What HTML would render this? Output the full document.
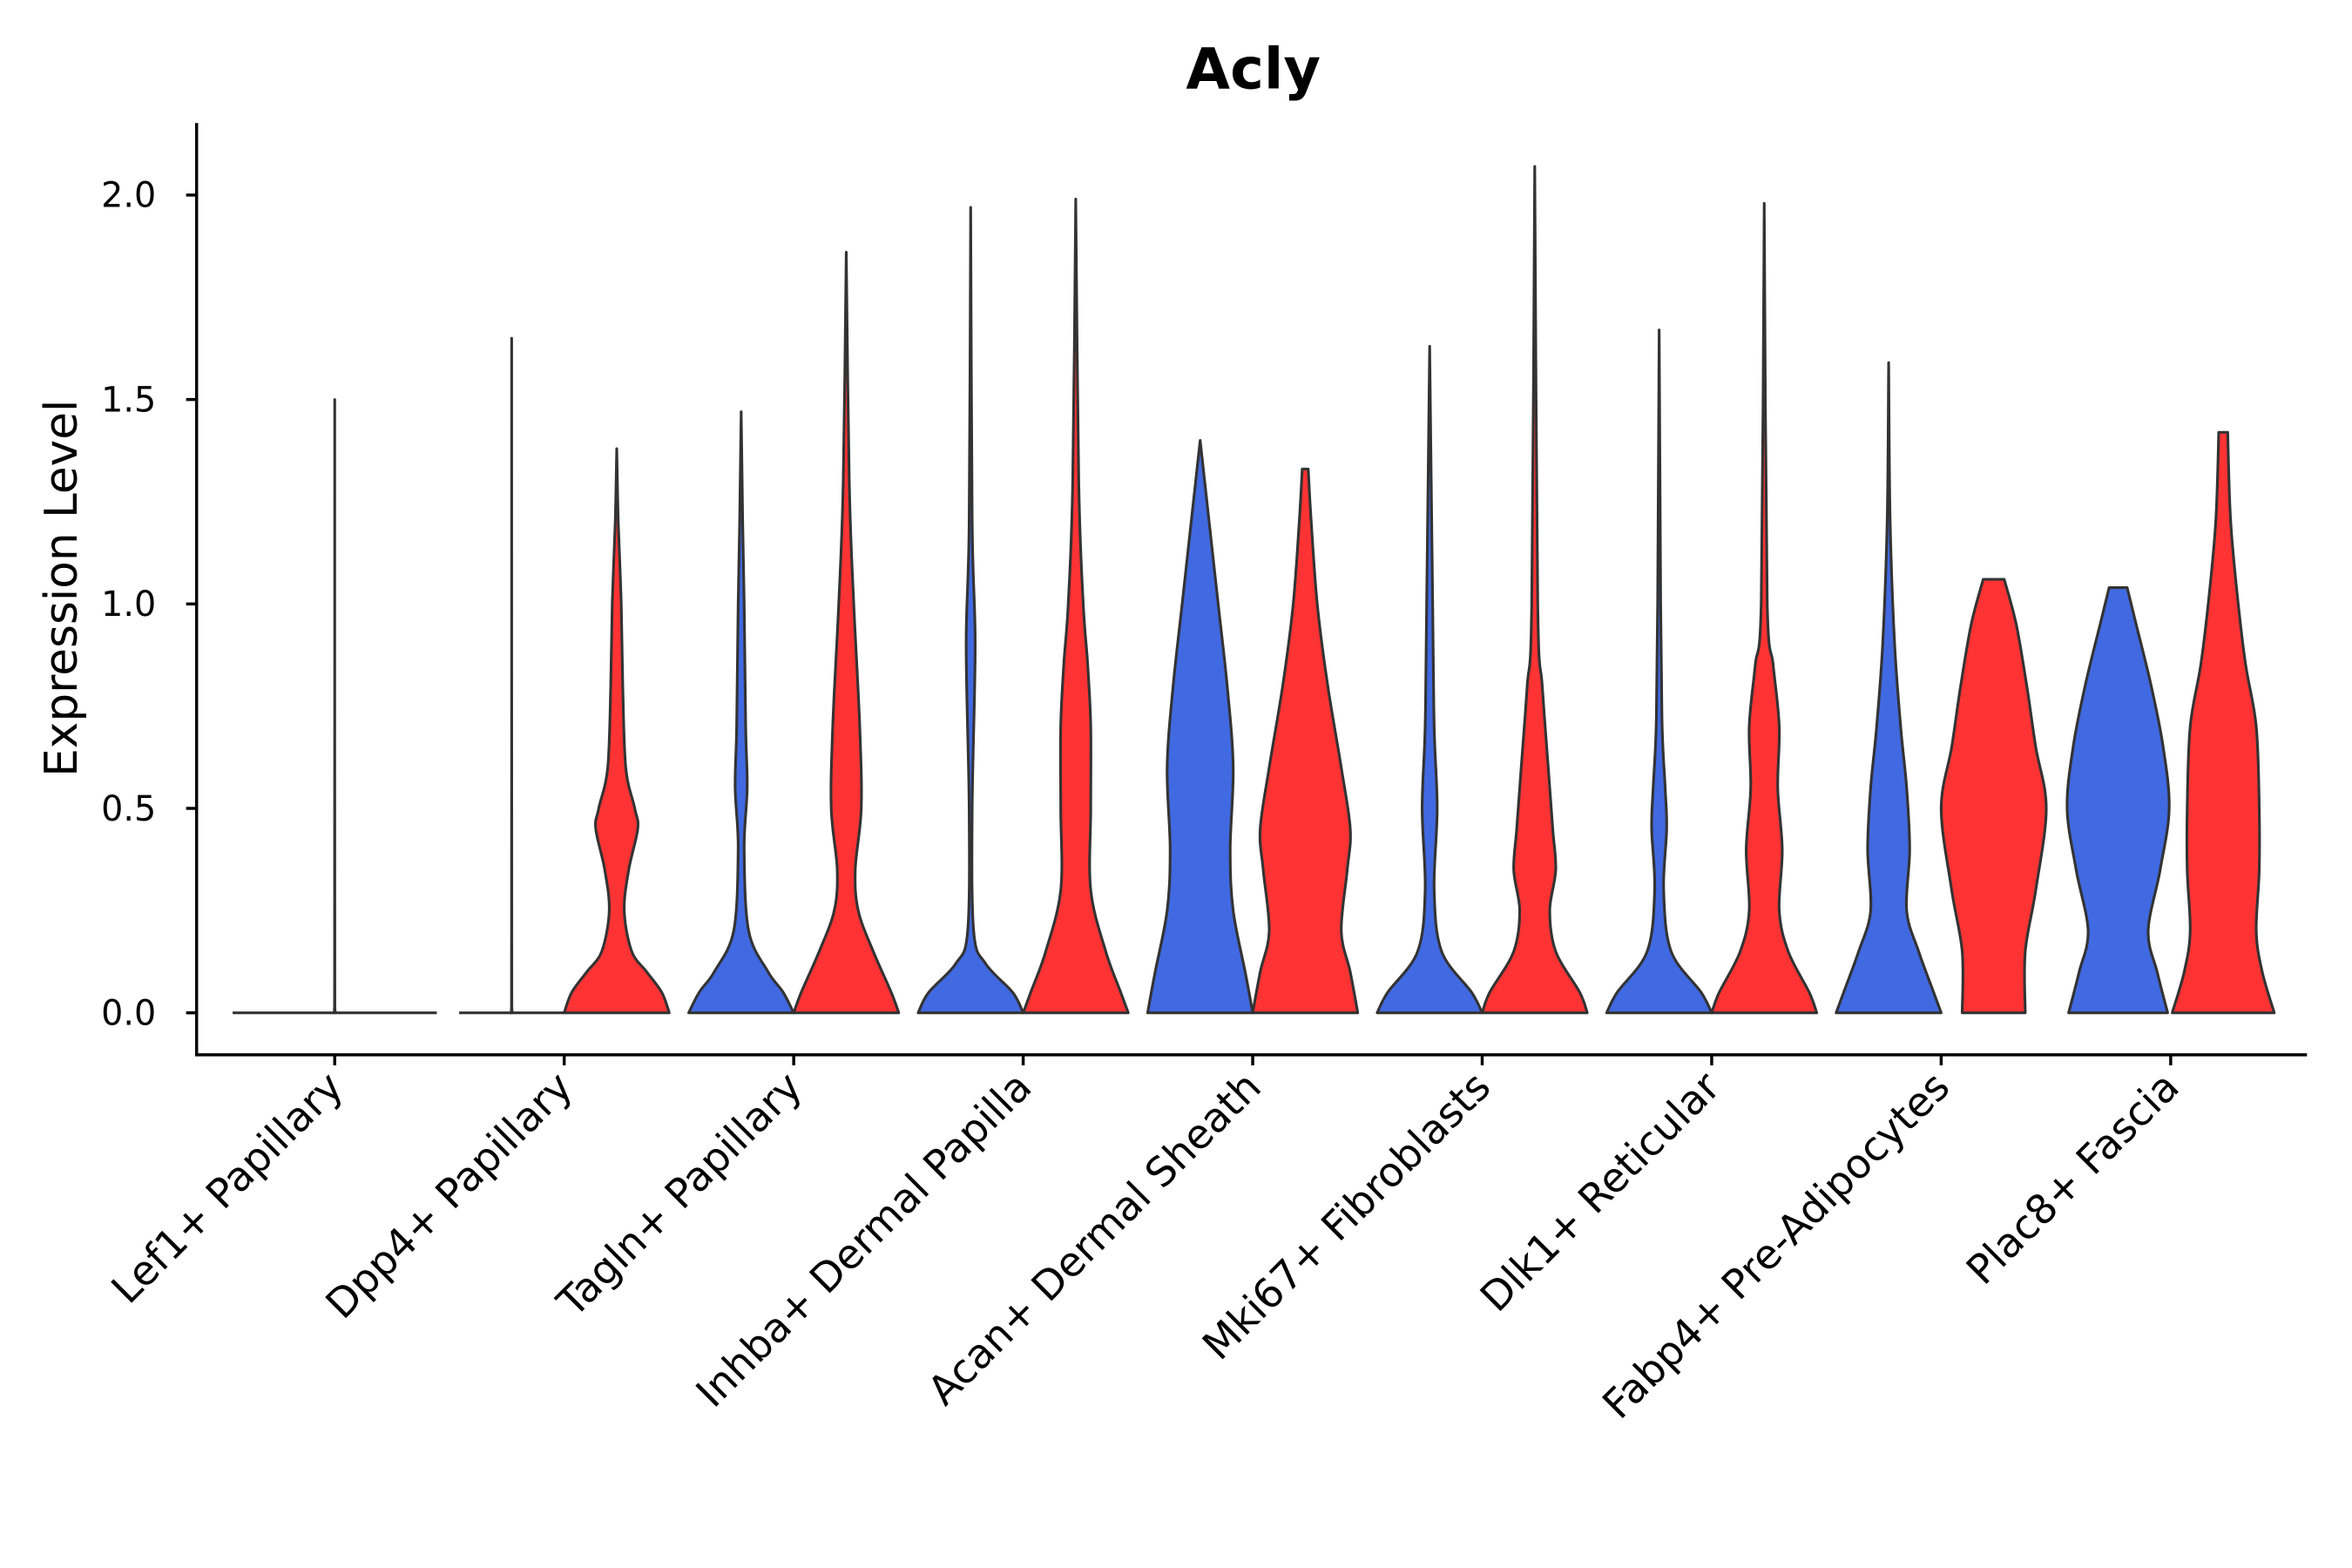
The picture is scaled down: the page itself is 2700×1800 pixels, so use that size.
<!DOCTYPE html>
<html><head><meta charset="utf-8"><style>
html,body{margin:0;padding:0;background:#fff;}
svg{display:block;}
text{font-family:"DejaVu Sans","Liberation Sans",sans-serif;fill:#000;}
</style></head><body>
<svg id="chart" width="2700" height="1800" viewBox="0 0 1567 1045" preserveAspectRatio="none" xmlns="http://www.w3.org/2000/svg">
<text x="835" y="59" text-anchor="middle" font-size="38" font-weight="bold">Acly</text>
<text transform="translate(51,392) rotate(-90)" text-anchor="middle" font-size="30">Expression Level</text>
<g id="plot"></g>
</svg>
<script>
const categories = ["Lef1+ Papillary","Dpp4+ Papillary","Tagln+ Papillary","Inhba+ Dermal Papilla","Acan+ Dermal Sheath","Mki67+ Fibroblasts","Dlk1+ Reticular","Fabp4+ Pre-Adipocytes","Plac8+ Fascia"];
const yTicks = [0.0, 0.5, 1.0, 1.5, 2.0];
const yTickLabels = ["0.0","0.5","1.0","1.5","2.0"];
const violinGroup = [0,1,1,2,2,3,3,4,4,5,5,6,6,7,7,8,8];
const violinSide  = [0,-1,1,-1,1,-1,1,-1,1,-1,1,-1,1,-1,1,-1,1];
const violinFill  = ["none","none","red","blue","red","blue","red","blue","red","blue","red","blue","red","blue","red","blue","red"];
const violinProfiles = [
 [[0,0.4],[0.02,0.1],[1.5,0]],
 [[0,0.4],[0.02,0.1],[1.65,0]],
 [[0,35],[0.05,30],[0.1,20],[0.15,10],[0.25,5],[0.35,8],[0.45,14],[0.5,12],[0.6,6],[0.8,4],[1.0,3],[1.2,1],[1.38,0]],
 [[0,35],[0.05,28],[0.1,18],[0.2,5],[0.4,2],[0.55,4],[0.7,3],[1.0,2],[1.2,1],[1.47,0]],
 [[0,35],[0.05,30],[0.15,18],[0.25,8],[0.35,6],[0.5,10],[0.7,9],[1.0,5],[1.3,2],[1.86,0]],
 [[0,35],[0.05,28],[0.12,10],[0.2,2],[0.5,1],[0.9,3],[1.2,1],[1.97,0]],
 [[0,35],[0.05,30],[0.15,20],[0.3,10],[0.5,10],[0.7,10],[0.85,8],[1.0,5],[1.3,2],[1.99,0]],
 [[0,35],[0.1,30],[0.25,22],[0.4,20],[0.6,22],[0.8,18],[1.0,12],[1.2,6],[1.4,0]],
 [[0,35],[0.1,30],[0.2,24],[0.35,28],[0.45,30],[0.6,24],[0.8,15],[1.0,8],[1.2,4],[1.33,2]],
 [[0,35],[0.05,28],[0.15,8],[0.3,3],[0.5,5],[0.7,3],[1.0,2],[1.63,0]],
 [[0,35],[0.05,30],[0.15,14],[0.25,10],[0.35,14],[0.45,12],[0.6,9],[0.8,5],[1.0,2],[2.07,0]],
 [[0,35],[0.05,28],[0.15,8],[0.3,3],[0.45,5],[0.55,4],[0.7,2],[1.0,1],[1.67,0]],
 [[0,35],[0.05,30],[0.15,16],[0.25,10],[0.4,12],[0.55,9],[0.7,10],[0.85,6],[1.0,2],[1.98,0]],
 [[0,35],[0.05,30],[0.15,20],[0.25,12],[0.4,14],[0.55,12],[0.7,8],[0.9,4],[1.2,1],[1.59,0]],
 [[0,21],[0.15,21],[0.3,28],[0.5,35],[0.65,28],[0.8,22],[0.95,15],[1.06,7]],
 [[0,33],[0.1,26],[0.2,20],[0.35,28],[0.5,34],[0.65,30],[0.8,22],[0.95,12],[1.04,6]],
 [[0,34],[0.1,26],[0.2,22],[0.35,24],[0.5,24],[0.7,22],[0.85,15],[1.0,10],[1.2,5],[1.42,3]]
];
const NS="http://www.w3.org/2000/svg";
const plot=document.getElementById('plot');
const x0=223, step=152.9, y0=675, yPerUnit=272.5;
function xScale(i){return x0+i*step;}
function yScale(v){return y0-v*yPerUnit;}
const colors={blue:"#4169E1",red:"#FF3333",none:"#ffffff"};
function mk(tag,attrs){const e=document.createElementNS(NS,tag);for(const k in attrs)e.setAttribute(k,attrs[k]);plot.appendChild(e);return e;}
function clamp(v,a,b){const lo=Math.min(a,b),hi=Math.max(a,b);return Math.max(lo,Math.min(hi,v));}
function smoothSide(pts){
  let d="";
  for(let i=0;i<pts.length-1;i++){
    const p0=pts[Math.max(0,i-1)],p1=pts[i],p2=pts[i+1],p3=pts[Math.min(pts.length-1,i+2)];
    const c1=[p1[0]+(p2[0]-p0[0])/6,clamp(p1[1]+(p2[1]-p0[1])/6,p1[1],p2[1])];
    const c2=[p2[0]-(p3[0]-p1[0])/6,clamp(p2[1]-(p3[1]-p1[1])/6,p1[1],p2[1])];
    d+=`C${c1[0].toFixed(1)},${c1[1].toFixed(1)} ${c2[0].toFixed(1)},${c2[1].toFixed(1)} ${p2[0].toFixed(1)},${p2[1].toFixed(1)} `;
  }
  return d;
}
violinProfiles.forEach((prof,i)=>{
  const cx=xScale(violinGroup[i])+violinSide[i]*35;
  const right=prof.map(p=>[cx+p[1],yScale(p[0])]);
  const left=prof.slice().reverse().map(p=>[cx-p[1],yScale(p[0])]);
  let d=`M${right[0][0].toFixed(1)},${right[0][1].toFixed(1)} `+smoothSide(right);
  d+=`L${left[0][0].toFixed(1)},${left[0][1].toFixed(1)} `+smoothSide(left)+"Z";
  const el=mk('path',{d:d,fill:colors[violinFill[i]],stroke:"#333",'stroke-width':1.8,'stroke-linejoin':'round'});
  
  
  if(violinSide[i]!==1 && violinFill[i]==="none"){
    const w=violinGroup[i]===0?68:35;
    const base=mk('line',{x1:cx-w,x2:cx+w,y1:y0,y2:y0,stroke:"#333",'stroke-width':1.8});
    
    
  }
});
const ya=mk('line',{x1:131,x2:131,y1:82,y2:703,stroke:"#000",'stroke-width':2});


const xa=mk('line',{x1:130,x2:1537,y1:703,y2:703,stroke:"#000",'stroke-width':2});


yTicks.forEach((v,i)=>{
  const y=yScale(v);
  const t=mk('line',{x1:124,x2:131,y1:y,y2:y,stroke:"#000",'stroke-width':2});
  
  
  const l=mk('text',{x:104,y:y+8,'text-anchor':'end','font-size':23});
  l.textContent=yTickLabels[i];
  
  
});
categories.forEach((c,i)=>{
  const x=xScale(i);
  const t=mk('line',{x1:x,x2:x,y1:703,y2:710,stroke:"#000",'stroke-width':2});
  
  
  const l=mk('text',{transform:`translate(${x+7},${726}) rotate(-45)`,'text-anchor':'end','font-size':27});
  l.textContent=c;
  
  
});
</script>
</body></html>
